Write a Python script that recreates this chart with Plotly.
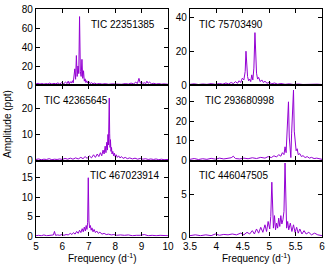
"""
Amplitude spectra of six TIC stars
----------------------------------
3 x 2 grid of periodograms, gnuplot-like framing.
"""

import plotly.graph_objects as go


# ==============================
# Data
# ==============================

# TIC 22351385
freq_a = [5.00, 5.08, 5.15, 5.22, 5.30, 5.37, 5.45, 5.52, 5.60, 5.68,
          5.75, 5.83, 5.90, 5.97, 6.05, 6.12, 6.18, 6.22, 6.26, 6.30,
          6.34, 6.38, 6.41, 6.44, 6.47, 6.50, 6.53, 6.56, 6.59, 6.62,
          6.65, 6.68, 6.71, 6.74, 6.77, 6.80, 6.83, 6.86, 6.89, 6.92,
          6.96, 7.00, 7.05, 7.10, 7.16, 7.22, 7.30, 7.40, 7.50, 7.62,
          7.75, 7.88, 8.00, 8.12, 8.25, 8.38, 8.50, 8.60, 8.70, 8.78,
          8.84, 8.90, 8.95, 9.00, 9.05, 9.10, 9.15, 9.20, 9.25, 9.30,
          9.38, 9.46, 9.55, 9.65, 9.75, 9.85, 10.00]
amp_a = [1.2, 1.8, 1.0, 1.6, 0.9, 1.5, 1.1, 2.0, 1.0, 1.7,
         1.2, 2.2, 1.0, 2.5, 1.4, 3.0, 1.5, 4.0, 1.2, 3.5,
         2.0, 4.5, 2.2, 8.0, 17.0, 6.0, 31.0, 9.0, 20.0, 12.0,
         72.0, 14.0, 9.0, 27.0, 7.0, 15.0, 4.0, 6.5, 2.5, 4.5,
         2.0, 3.5, 1.5, 2.5, 1.2, 2.0, 1.0, 1.6, 0.9, 1.4,
         0.8, 1.2, 0.9, 1.3, 0.8, 1.5, 1.0, 2.0, 1.2, 3.0,
         1.5, 7.0, 2.0, 3.0, 1.5, 2.5, 1.2, 4.0, 1.8, 3.0,
         1.2, 1.8, 1.0, 1.5, 0.9, 1.2, 0.8]

# TIC 75703490
freq_b = [3.50, 3.58, 3.66, 3.74, 3.82, 3.90, 3.98, 4.06, 4.12, 4.18,
          4.23, 4.28, 4.32, 4.36, 4.40, 4.43, 4.46, 4.49, 4.52, 4.545,
          4.56, 4.575, 4.59, 4.61, 4.63, 4.65, 4.67, 4.69, 4.71, 4.73,
          4.745, 4.76, 4.78, 4.80, 4.83, 4.86, 4.89, 4.92, 4.96, 5.00,
          5.05, 5.10, 5.16, 5.22, 5.30, 5.38, 5.46, 5.55, 5.64, 5.73,
          5.82, 5.91, 6.00]
amp_b = [0.4, 0.7, 0.3, 0.6, 0.4, 0.8, 0.4, 0.9, 0.5, 1.2,
         0.6, 1.5, 0.8, 2.0, 1.0, 2.5, 1.5, 4.0, 3.0, 8.0,
         20.0, 9.0, 5.0, 2.5, 3.5, 2.0, 6.0, 3.0, 10.0, 31.0,
         12.0, 7.0, 3.5, 4.5, 2.0, 3.0, 1.5, 2.2, 1.0, 1.6,
         0.7, 1.2, 0.5, 0.9, 0.4, 0.7, 0.3, 0.6, 0.3, 0.5,
         0.3, 0.5, 0.3]

# TIC 42365645
freq_c = [5.00, 5.10, 5.20, 5.30, 5.40, 5.50, 5.60, 5.70, 5.80, 5.90,
          6.00, 6.10, 6.20, 6.30, 6.40, 6.50, 6.60, 6.70, 6.78, 6.86,
          6.94, 7.02, 7.10, 7.18, 7.25, 7.32, 7.38, 7.44, 7.49, 7.54,
          7.58, 7.62, 7.65, 7.68, 7.705, 7.725, 7.745, 7.76, 7.775, 7.79,
          7.805, 7.82, 7.84, 7.86, 7.88, 7.91, 7.94, 7.97, 8.00, 8.04,
          8.08, 8.13, 8.18, 8.24, 8.30, 8.38, 8.46, 8.55, 8.65, 8.75,
          8.85, 8.95, 9.05, 9.15, 9.25, 9.35, 9.45, 9.55, 9.65, 9.75,
          9.85, 10.00]
amp_c = [0.4, 0.6, 0.3, 0.5, 0.4, 0.7, 0.3, 0.5, 0.4, 0.6,
         0.4, 0.8, 0.5, 0.9, 0.5, 1.0, 0.6, 1.2, 0.7, 1.5,
         0.8, 1.8, 1.0, 2.2, 1.2, 2.5, 1.5, 3.0, 1.8, 4.0,
         2.5, 5.5, 3.0, 7.0, 4.0, 10.0, 6.0, 11.0, 24.0, 10.5,
         5.0, 8.0, 3.5, 5.0, 2.5, 3.5, 1.8, 2.8, 1.5, 2.2,
         1.2, 1.8, 1.0, 1.5, 0.8, 1.2, 0.7, 1.0, 0.6, 0.9,
         0.5, 0.8, 0.5, 0.7, 0.4, 0.6, 0.4, 0.6, 0.3, 0.5,
         0.3, 0.4]

# TIC 293680998
freq_d = [3.50, 3.58, 3.66, 3.74, 3.82, 3.90, 3.98, 4.06, 4.14, 4.22,
          4.28, 4.32, 4.36, 4.44, 4.52, 4.60, 4.68, 4.76, 4.84, 4.92,
          4.98, 5.04, 5.09, 5.14, 5.18, 5.22, 5.25, 5.28, 5.30, 5.32,
          5.335, 5.35, 5.365, 5.38, 5.395, 5.41, 5.425, 5.44, 5.46, 5.475,
          5.49, 5.51, 5.53, 5.55, 5.58, 5.61, 5.64, 5.68, 5.72, 5.76,
          5.80, 5.85, 5.90, 5.95, 6.00]
amp_d = [0.6, 1.0, 0.5, 0.9, 0.6, 1.1, 0.7, 1.2, 0.8, 1.0,
         1.4, 2.2, 1.0, 0.8, 1.2, 0.9, 1.4, 1.0, 1.6, 1.2,
         2.0, 1.5, 2.4, 1.8, 3.0, 2.2, 4.0, 3.0, 7.0, 4.0,
         14.0, 22.0, 30.0, 12.0, 3.0, 1.5, 14.0, 28.0, 36.0, 15.0,
         8.0, 5.0, 6.0, 3.0, 3.5, 2.0, 2.5, 1.5, 2.0, 1.2,
         1.6, 1.0, 1.2, 0.8, 0.6]

# TIC 467023914
freq_e = [5.00, 5.10, 5.20, 5.30, 5.40, 5.50, 5.60, 5.66, 5.70, 5.74,
          5.82, 5.90, 5.98, 6.06, 6.14, 6.22, 6.30, 6.36, 6.42, 6.48,
          6.54, 6.60, 6.65, 6.70, 6.75, 6.79, 6.83, 6.87, 6.90, 6.93,
          6.955, 6.98, 7.005, 7.03, 7.06, 7.09, 7.12, 7.16, 7.20, 7.25,
          7.30, 7.36, 7.42, 7.50, 7.58, 7.66, 7.75, 7.85, 7.95, 8.05,
          8.20, 8.35, 8.50, 8.65, 8.80, 8.95, 9.10, 9.25, 9.40, 9.55,
          9.70, 9.85, 10.00]
amp_e = [0.2, 0.3, 0.2, 0.4, 0.2, 0.3, 0.3, 0.4, 1.3, 0.3,
         0.4, 0.3, 0.5, 0.3, 0.5, 0.4, 0.8, 0.5, 1.0, 0.6,
         1.3, 0.8, 1.6, 1.0, 2.0, 1.2, 2.4, 1.4, 2.8, 1.8,
         3.5, 15.0, 4.0, 2.2, 2.8, 1.6, 2.2, 1.2, 1.8, 1.0,
         1.4, 0.8, 1.1, 0.6, 0.8, 0.5, 0.6, 0.4, 0.5, 0.3,
         0.4, 0.3, 0.4, 0.2, 0.3, 0.3, 0.5, 0.2, 0.3, 0.2,
         0.3, 0.2, 0.2]

# TIC 446047505
freq_f = [3.50, 3.60, 3.70, 3.80, 3.90, 3.98, 4.06, 4.14, 4.22, 4.30,
          4.38, 4.46, 4.52, 4.58, 4.63, 4.68, 4.72, 4.76, 4.80, 4.84,
          4.88, 4.92, 4.95, 4.98, 5.01, 5.03, 5.05, 5.065, 5.08, 5.10,
          5.12, 5.14, 5.16, 5.18, 5.20, 5.22, 5.24, 5.26, 5.28, 5.30,
          5.315, 5.33, 5.35, 5.37, 5.40, 5.43, 5.46, 5.49, 5.52, 5.55,
          5.58, 5.62, 5.66, 5.70, 5.75, 5.80, 5.86, 5.92, 6.00]
amp_f = [0.1, 0.2, 0.1, 0.2, 0.1, 0.3, 0.15, 0.25, 0.2, 0.3,
         0.2, 0.4, 0.2, 0.5, 0.3, 0.7, 0.3, 0.9, 0.4, 1.1,
         0.5, 1.4, 0.6, 1.8, 0.9, 2.4, 6.5, 2.0, 1.0, 2.5,
         0.8, 1.6, 1.0, 2.2, 1.2, 2.5, 1.5, 2.0, 3.0, 8.8,
         2.5, 1.0, 1.8, 0.8, 1.6, 0.6, 1.4, 0.5, 1.1, 0.4,
         0.9, 0.3, 0.7, 0.3, 0.5, 0.2, 0.4, 0.2, 0.1]

star_names = ["TIC 22351385", "TIC 75703490", "TIC 42365645",
              "TIC 293680998", "TIC 467023914", "TIC 446047505"]

x_ticks_left = [5, 6, 7, 8, 9, 10]
x_ticks_right = [3.5, 4, 4.5, 5, 5.5, 6]
x_ticktext_right = ["3.5", "4", "4.5", "5", "5.5", "6"]

y_ticks = [[0, 20, 40, 60, 80], [0, 20, 40],
           [0, 10, 20], [0, 10, 20, 30],
           [0, 5, 10, 15], [0, 5]]
y_max = [80, 45, 29, 38.6, 19.4, 9.1]


# ==============================
# Layout helpers (pixels -> paper)
# ==============================

W, H = 335, 267
FONT = "Liberation Sans, Arial, sans-serif"
PURPLE = "#9400d3"


def fx(px):
    return px / W


def fy(py):
    return 1 - py / H


col_px = [(36, 168), (190, 322)]
row_px = [(9, 85), (85, 160.5), (160.5, 236.5)]

spectra = [(freq_a, amp_a), (freq_b, amp_b), (freq_c, amp_c),
           (freq_d, amp_d), (freq_e, amp_e), (freq_f, amp_f)]

fig = go.Figure()

for i, (fr, am) in enumerate(spectra):
    n = "" if i == 0 else str(i + 1)
    fig.add_trace(go.Scatter(
        x=fr, y=am, mode="lines",
        line=dict(color=PURPLE, width=1),
        xaxis="x" + n, yaxis="y" + n,
        showlegend=False, hoverinfo="skip",
    ))

    row, col = divmod(i, 2)
    x0, x1 = col_px[col]
    y0, y1 = row_px[row]

    axis_common = dict(
        showline=True, linecolor="black", linewidth=1.3, mirror="ticks",
        ticks="inside", ticklen=4, tickwidth=1, tickcolor="black",
        showgrid=False, zeroline=False, automargin=False,
        tickfont=dict(family=FONT, size=10, color="black"),
    )

    if col == 0:
        xr, tv, tt = [5, 10], x_ticks_left, [str(v) for v in x_ticks_left]
    else:
        xr, tv, tt = [3.5, 6], x_ticks_right, x_ticktext_right

    fig.update_layout(**{
        "xaxis" + n: dict(
            axis_common, domain=[fx(x0), fx(x1)], range=xr,
            tickvals=tv, ticktext=tt, showticklabels=(row == 2),
            anchor="y" + n,
        ),
        "yaxis" + n: dict(
            axis_common, domain=[fy(y1), fy(y0)], range=[0, y_max[i]],
            tickvals=y_ticks[i], anchor="x" + n,
        ),
    })


# ==============================
# Labels
# ==============================

label_pos = [(157, 24, "right"), (197, 24, "left"),
             (42, 100, "left"), (203, 100, "left"),
             (161, 176, "right"), (197, 176, "left")]

annotations = []
for name, (lx, ly, anc) in zip(star_names, label_pos):
    annotations.append(dict(
        text=name, x=fx(lx), y=fy(ly), xref="paper", yref="paper",
        xanchor=anc, yanchor="middle", showarrow=False,
        font=dict(family=FONT, size=10, color="black"),
    ))

for cx in (102, 256):
    annotations.append(dict(
        text="Frequency (d<sup>-1</sup>)", x=fx(cx), y=fy(258),
        xref="paper", yref="paper", xanchor="center", yanchor="middle",
        showarrow=False, font=dict(family=FONT, size=10, color="black"),
    ))

annotations.append(dict(
    text="Amplitude (ppt)", x=fx(7), y=fy(124), xref="paper", yref="paper",
    xanchor="center", yanchor="middle", textangle=-90, showarrow=False,
    font=dict(family=FONT, size=10, color="black"),
))

fig.update_layout(
    width=W, height=H,
    margin=dict(l=0, r=0, t=0, b=0),
    paper_bgcolor="white", plot_bgcolor="white",
    annotations=annotations,
)

# page body has a default 8px margin; drop it so the figure fills the window
fig.write_html(
    "out.html",
    config={"displayModeBar": False},
    post_script="document.body.style.margin='0';",
)
